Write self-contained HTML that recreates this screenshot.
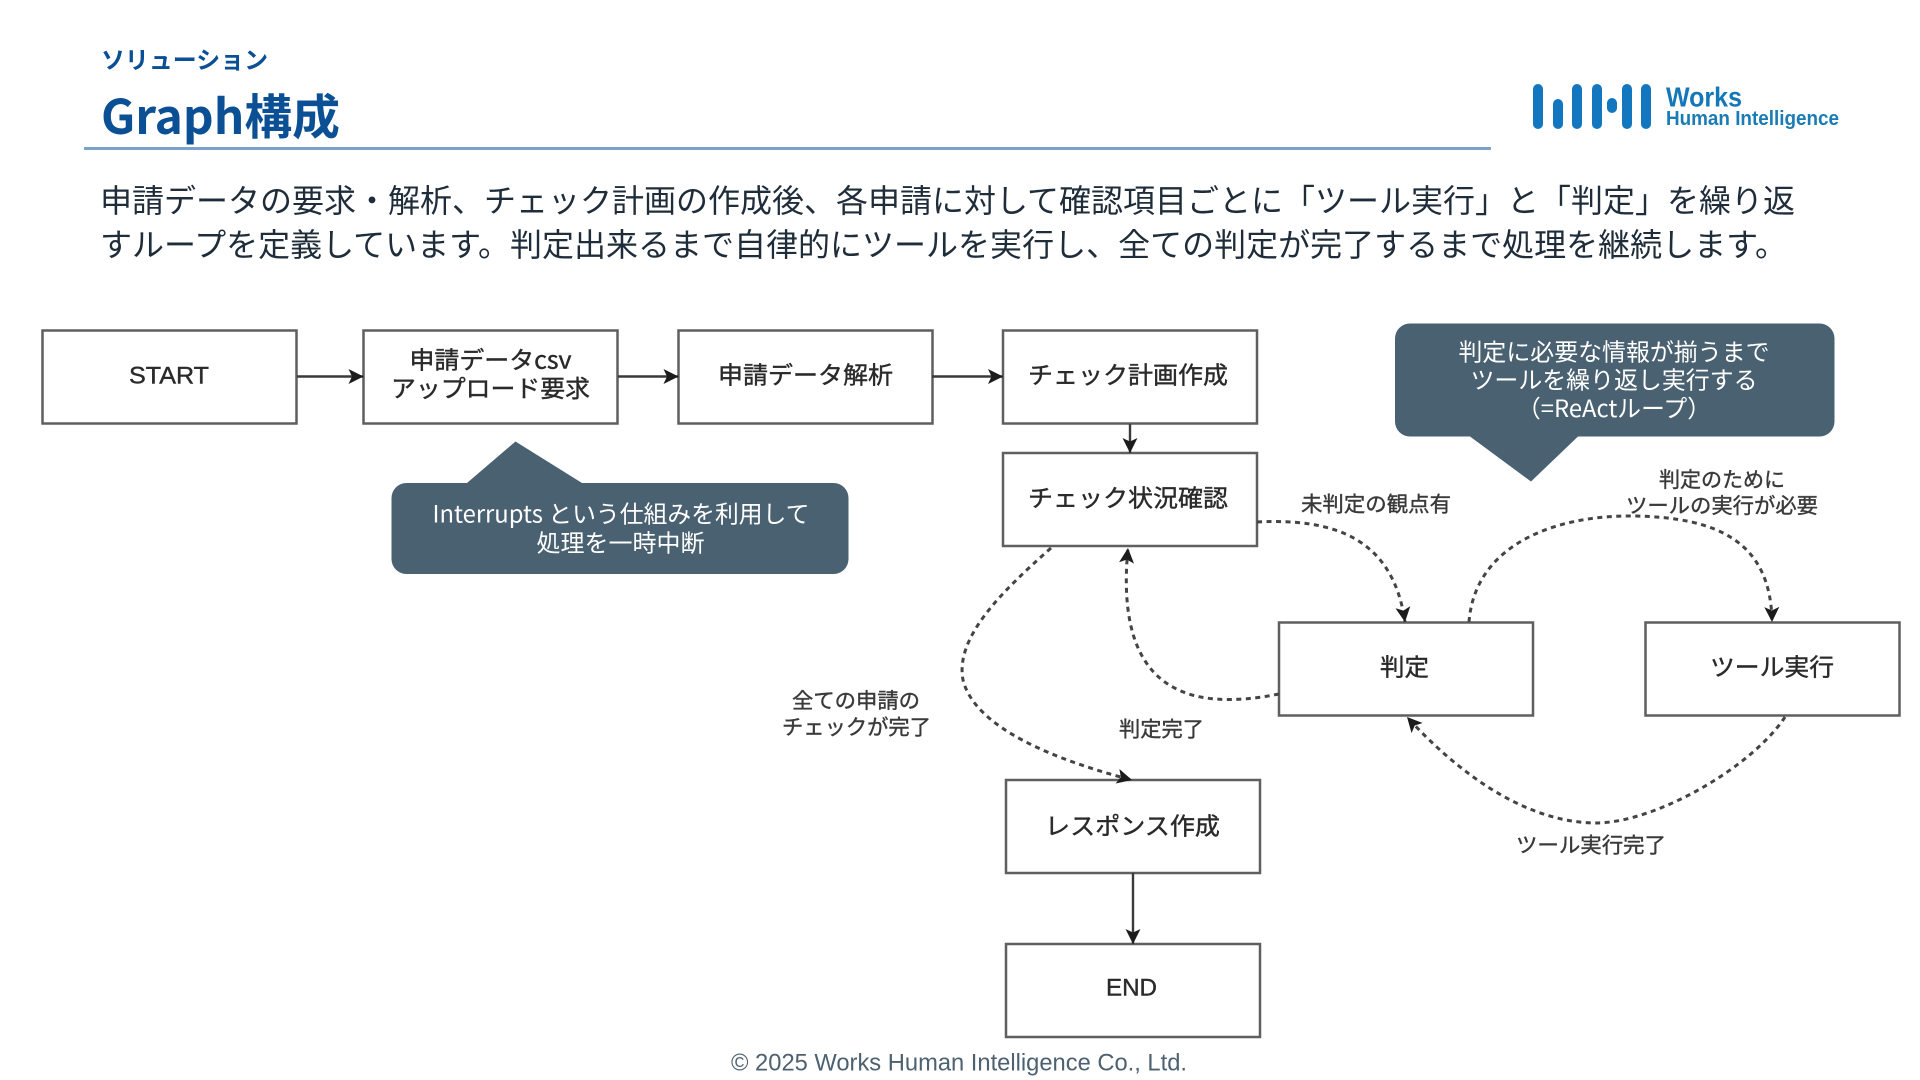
<!DOCTYPE html>
<html lang="ja">
<head>
<meta charset="utf-8">
<title>Graph構成</title>
<style>
html,body{margin:0;padding:0;background:#fff;width:1920px;height:1080px;overflow:hidden}
svg{display:block}
text{font-family:"Noto Sans CJK JP","Liberation Sans",sans-serif;dominant-baseline:central}
.n{font-size:24px;fill:#2a2a2a;stroke:#2a2a2a;stroke-width:.4px}
.l{font-size:21px;fill:#3a3a3a;stroke:#3a3a3a;stroke-width:.4px}
.c{font-size:24px;fill:#fff}
.b{fill:#fff;stroke:#5f5f5f;stroke-width:2.500}
.s{fill:none;stroke:#3a3a3a;stroke-width:2.400}
.d{fill:none;stroke:#444;stroke-width:3;stroke-dasharray:5 4.500}
.p{font-size:32px;fill:#1f2d3a}
</style>
</head>
<body>
<svg width="1920" height="1080" viewBox="0 0 1920 1080" xmlns="http://www.w3.org/2000/svg">
<defs>
<marker id="a" markerUnits="userSpaceOnUse" markerWidth="18" markerHeight="18" refX="15" refY="9" orient="auto">
<path d="M0 1.500 L15 9 L0 16.500 L3.500 9 Z" fill="#1c1c1c"/>
</marker>
</defs>

<text x="101" y="58" font-size="24" font-weight="700" fill="#0b4f94" textLength="167" lengthAdjust="spacingAndGlyphs">ソリューション</text>
<text x="101" y="113" font-size="48" font-weight="700" fill="#0b4f94" textLength="239" lengthAdjust="spacingAndGlyphs">Graph構成</text>
<rect x="84" y="147" width="1407" height="3" fill="#7ba2cc"/>

<g fill="#1377bf">
<rect x="1533" y="84" width="10" height="45" rx="5"/>
<rect x="1553" y="99" width="10" height="30" rx="5"/>
<rect x="1572" y="84" width="10" height="45" rx="5"/>
<rect x="1592" y="84" width="10" height="45" rx="5"/>
<rect x="1607" y="98" width="10" height="15" rx="5"/>
<rect x="1622" y="84" width="10" height="45" rx="5"/>
<rect x="1641" y="84" width="10" height="45" rx="5"/>
</g>
<text x="1666" y="97" font-size="28" font-weight="700" fill="#1377b8" style="font-family:'Liberation Sans',sans-serif" textLength="76" lengthAdjust="spacingAndGlyphs">Works</text>
<text x="1666" y="119" font-size="20" font-weight="700" fill="#1a7bb5" style="font-family:'Liberation Sans',sans-serif" textLength="173" lengthAdjust="spacingAndGlyphs">Human Intelligence</text>

<text class="p" x="100" y="199" textLength="1695" lengthAdjust="spacingAndGlyphs">申請データの要求・解析、チェック計画の作成後、各申請に対して確認項目ごとに「ツール実行」と「判定」を繰り返</text>
<text class="p" x="100" y="243" textLength="1687" lengthAdjust="spacingAndGlyphs">すループを定義しています。判定出来るまで自律的にツールを実行し、全ての判定が完了するまで処理を継続します。</text>

<rect class="b" x="42.500" y="330.500" width="254" height="93"/>
<rect class="b" x="363.500" y="330.500" width="254" height="93"/>
<rect class="b" x="678.500" y="330.500" width="254" height="93"/>
<rect class="b" x="1003" y="330.500" width="254" height="93"/>
<rect class="b" x="1003" y="453" width="254" height="93"/>
<rect class="b" x="1279" y="622.500" width="254" height="93"/>
<rect class="b" x="1645.500" y="622.500" width="254" height="93"/>
<rect class="b" x="1006" y="780" width="254" height="93"/>
<rect class="b" x="1006" y="944" width="254" height="93"/>

<path class="s" d="M297 376.500H363.500" marker-end="url(#a)"/>
<path class="s" d="M618 376.500H678.500" marker-end="url(#a)"/>
<path class="s" d="M932 376.500H1003" marker-end="url(#a)"/>
<path class="s" d="M1130 424V453" marker-end="url(#a)"/>
<path class="s" d="M1133 873V944" marker-end="url(#a)"/>

<path class="d" d="M1257 522C1334 518 1393 538 1405 622" marker-end="url(#a)"/>
<path class="d" d="M1469 622C1475 543 1558 515 1633 516C1718 517 1771 542 1772 622" marker-end="url(#a)"/>
<path class="d" d="M1279 694C1189 712 1114 692 1128 548" marker-end="url(#a)"/>
<path class="d" d="M1051 548C1000 593 955 638 963 680C975 728 1055 760 1132 780" marker-end="url(#a)"/>
<path class="d" d="M1785 717C1752 767 1657 822 1597 823C1527 823 1460 775 1407 717" marker-end="url(#a)"/>

<path d="M467 483L515.500 441.500L582 483H833.500a15 15 0 0 1 15 15V559a15 15 0 0 1-15 15H406.500a15 15 0 0 1-15-15V498a15 15 0 0 1 15-15Z" fill="#4a6172"/>
<path d="M1410 323.500H1819.500a15 15 0 0 1 15 15V421.500a15 15 0 0 1-15 15H1578L1531 481.500L1470 436.500H1410a15 15 0 0 1-15-15V338.500a15 15 0 0 1 15-15Z" fill="#4a6172"/>

<text class="n" x="129" y="376" textLength="80" lengthAdjust="spacingAndGlyphs" style="font-family:'Liberation Sans',sans-serif">START</text>
<text class="n" x="409.500" y="358" textLength="162" lengthAdjust="spacingAndGlyphs">申請データcsv</text>
<text class="n" x="391" y="386.500" textLength="199" lengthAdjust="spacingAndGlyphs">アップロード要求</text>
<text class="n" x="718" y="373" textLength="175" lengthAdjust="spacingAndGlyphs">申請データ解析</text>
<text class="n" x="1028" y="373" textLength="200" lengthAdjust="spacingAndGlyphs">チェック計画作成</text>
<text class="n" x="1028" y="496" textLength="200" lengthAdjust="spacingAndGlyphs">チェック状況確認</text>
<text class="n" x="1380" y="665" textLength="49" lengthAdjust="spacingAndGlyphs">判定</text>
<text class="n" x="1710" y="665" textLength="124" lengthAdjust="spacingAndGlyphs">ツール実行</text>
<text class="n" x="1045" y="824" textLength="175" lengthAdjust="spacingAndGlyphs">レスポンス作成</text>
<text class="n" x="1106" y="988" textLength="51" lengthAdjust="spacingAndGlyphs" style="font-family:'Liberation Sans',sans-serif">END</text>

<text class="l" x="1301" y="503.500" textLength="150" lengthAdjust="spacingAndGlyphs">未判定の観点有</text>
<text class="l" x="1659" y="479" textLength="126" lengthAdjust="spacingAndGlyphs">判定のために</text>
<text class="l" x="1626" y="505" textLength="192" lengthAdjust="spacingAndGlyphs">ツールの実行が必要</text>
<text class="l" x="792" y="700" textLength="128" lengthAdjust="spacingAndGlyphs">全ての申請の</text>
<text class="l" x="782" y="726.500" textLength="149" lengthAdjust="spacingAndGlyphs">チェックが完了</text>
<text class="l" x="1119" y="728.500" textLength="85" lengthAdjust="spacingAndGlyphs">判定完了</text>
<text class="l" x="1516" y="844.500" textLength="150" lengthAdjust="spacingAndGlyphs">ツール実行完了</text>

<text class="c" x="432.500" y="512" textLength="377" lengthAdjust="spacingAndGlyphs">Interrupts という仕組みを利用して</text>
<text class="c" x="536.500" y="541" textLength="168" lengthAdjust="spacingAndGlyphs">処理を一時中断</text>
<text class="c" x="1458.500" y="350" textLength="311" lengthAdjust="spacingAndGlyphs">判定に必要な情報が揃うまで</text>
<text class="c" x="1470.500" y="378" textLength="287" lengthAdjust="spacingAndGlyphs">ツールを繰り返し実行する</text>
<text class="c" x="1517" y="406.500" textLength="194" lengthAdjust="spacingAndGlyphs">（=ReActループ）</text>

<text x="731" y="1063" font-size="24" fill="#4d6170" style="font-family:'Liberation Sans',sans-serif" textLength="456" lengthAdjust="spacingAndGlyphs">© 2025 Works Human Intelligence Co., Ltd.</text>
</svg>
</body>
</html>
